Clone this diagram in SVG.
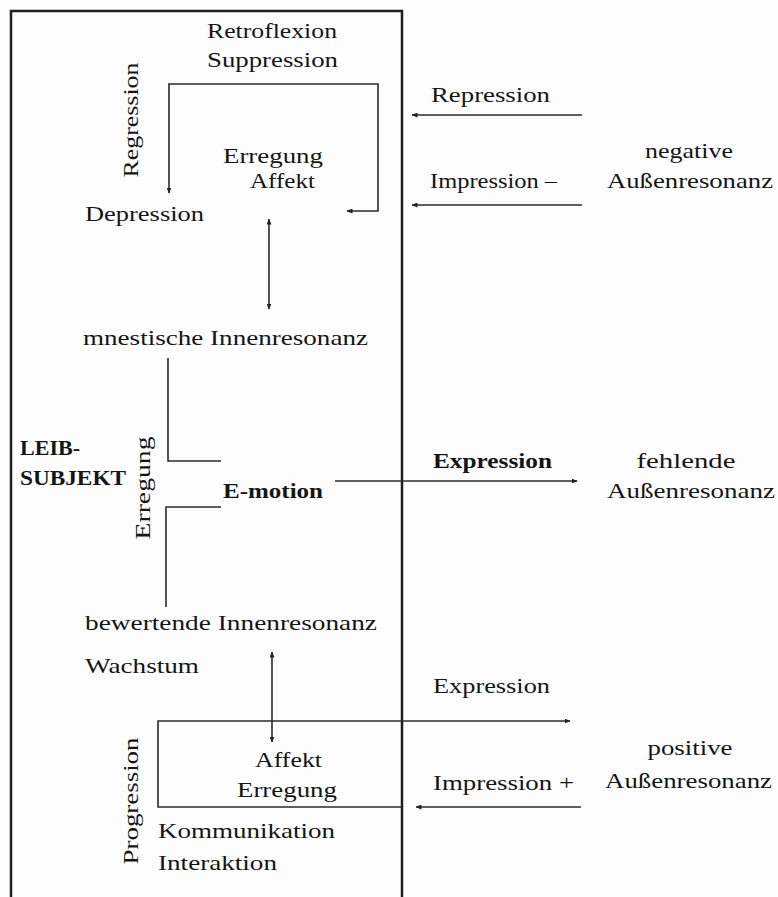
<svg xmlns="http://www.w3.org/2000/svg" width="778" height="897" viewBox="0 0 778 897">
  <defs>
    <marker id="tip" viewBox="0 0 6 5" refX="5.5" refY="2.5" markerWidth="6" markerHeight="5" markerUnits="userSpaceOnUse" orient="auto-start-reverse">
      <path d="M0,0 L6,2.5 L0,5 z" fill="#222"/>
    </marker>
  </defs>
  <style>
    text { font-family: "Liberation Serif", "Times New Roman", serif; font-size: 22px; fill: #151515; }
    .b { font-weight: bold; }
    .mid { text-anchor: middle; }
    .frame { fill: none; stroke: #1e1e1e; stroke-width: 2.5; }
    .ln { fill: none; stroke: #2a2a2a; stroke-width: 1.6; }
    .arr { marker-end: url(#tip); }
    .arr2 { marker-start: url(#tip); marker-end: url(#tip); }
  </style>

  <rect width="778" height="897" fill="#fdfdfd"/>

  <!-- body frame, open at the bottom -->
  <path class="frame" d="M11,900 V11 H402 V900"/>

  <!-- connectors -->
  <g id="connectors">
    <path class="ln arr2" d="M169,193 V84 H378 V211 H347"/>
    <path class="ln arr2" d="M269,219 V309"/>
    <path class="ln" d="M168,358 V461 H221"/>
    <path class="ln" d="M221,507 H166 V607"/>
    <path class="ln arr" d="M335,481 H577"/>
    <path class="ln arr2" d="M272,652 V742"/>
    <path class="ln" d="M570,721 H158 V807 H402" marker-start="url(#tip)"/>
    <path class="ln arr" d="M582,115 H412"/>
    <path class="ln arr" d="M582,205 H412"/>
    <path class="ln arr" d="M581,807 H416"/>
  </g>

  <!-- inner body labels -->
  <g id="retroflexion">
    <text x="207" y="38" textLength="130" lengthAdjust="spacingAndGlyphs">Retroflexion</text>
    <text x="207" y="67" textLength="131" lengthAdjust="spacingAndGlyphs">Suppression</text>
  </g>
  <g id="regression">
    <text class="mid" transform="translate(138,120) rotate(-90)" textLength="115" lengthAdjust="spacingAndGlyphs">Regression</text>
  </g>
  <g id="erregung-affekt">
    <text x="223" y="163" textLength="100" lengthAdjust="spacingAndGlyphs">Erregung</text>
    <text x="250" y="188" textLength="65" lengthAdjust="spacingAndGlyphs">Affekt</text>
  </g>
  <g id="depression">
    <text x="85" y="221" textLength="119" lengthAdjust="spacingAndGlyphs">Depression</text>
  </g>
  <g id="mnestische">
    <text x="83" y="345" textLength="285" lengthAdjust="spacingAndGlyphs">mnestische Innenresonanz</text>
  </g>
  <g id="leib-subjekt">
    <text class="b" x="20" y="455" textLength="60" lengthAdjust="spacingAndGlyphs">LEIB-</text>
    <text class="b" x="20" y="485" textLength="106" lengthAdjust="spacingAndGlyphs">SUBJEKT</text>
  </g>
  <g id="erregung-axis">
    <text class="mid" transform="translate(150,488) rotate(-90)" textLength="103" lengthAdjust="spacingAndGlyphs">Erregung</text>
  </g>
  <g id="e-motion">
    <text class="b" x="223" y="498" textLength="100" lengthAdjust="spacingAndGlyphs">E-motion</text>
  </g>
  <g id="bewertende">
    <text x="85" y="630" textLength="292" lengthAdjust="spacingAndGlyphs">bewertende Innenresonanz</text>
  </g>
  <g id="wachstum">
    <text x="85" y="673" textLength="114" lengthAdjust="spacingAndGlyphs">Wachstum</text>
  </g>
  <g id="affekt-erregung">
    <text x="255" y="767" textLength="67" lengthAdjust="spacingAndGlyphs">Affekt</text>
    <text x="237" y="797" textLength="100" lengthAdjust="spacingAndGlyphs">Erregung</text>
  </g>
  <g id="progression">
    <text class="mid" transform="translate(138,801) rotate(-90)" textLength="127" lengthAdjust="spacingAndGlyphs">Progression</text>
  </g>
  <g id="kommunikation">
    <text x="158" y="838" textLength="177" lengthAdjust="spacingAndGlyphs">Kommunikation</text>
    <text x="158" y="870" textLength="119" lengthAdjust="spacingAndGlyphs">Interaktion</text>
  </g>

  <!-- arrow labels outside the body -->
  <g id="repression">
    <text x="431" y="102" textLength="119" lengthAdjust="spacingAndGlyphs">Repression</text>
  </g>
  <g id="impression-minus">
    <text x="430" y="188" textLength="127" lengthAdjust="spacingAndGlyphs">Impression –</text>
  </g>
  <g id="expression-main">
    <text class="b" x="433" y="468" textLength="119" lengthAdjust="spacingAndGlyphs">Expression</text>
  </g>
  <g id="expression-pos">
    <text x="433" y="693" textLength="117" lengthAdjust="spacingAndGlyphs">Expression</text>
  </g>
  <g id="impression-plus">
    <text x="433" y="790" textLength="141" lengthAdjust="spacingAndGlyphs">Impression +</text>
  </g>

  <!-- outer resonance -->
  <g id="negative">
    <text x="689" y="158" class="mid" textLength="88" lengthAdjust="spacingAndGlyphs">negative</text>
    <text x="607" y="188" textLength="166" lengthAdjust="spacingAndGlyphs">Außenresonanz</text>
  </g>
  <g id="fehlende">
    <text x="686" y="468" class="mid" textLength="99" lengthAdjust="spacingAndGlyphs">fehlende</text>
    <text x="607" y="498" textLength="168" lengthAdjust="spacingAndGlyphs">Außenresonanz</text>
  </g>
  <g id="positive">
    <text x="690" y="755" class="mid" textLength="85" lengthAdjust="spacingAndGlyphs">positive</text>
    <text x="605" y="788" textLength="167" lengthAdjust="spacingAndGlyphs">Außenresonanz</text>
  </g>
</svg>
